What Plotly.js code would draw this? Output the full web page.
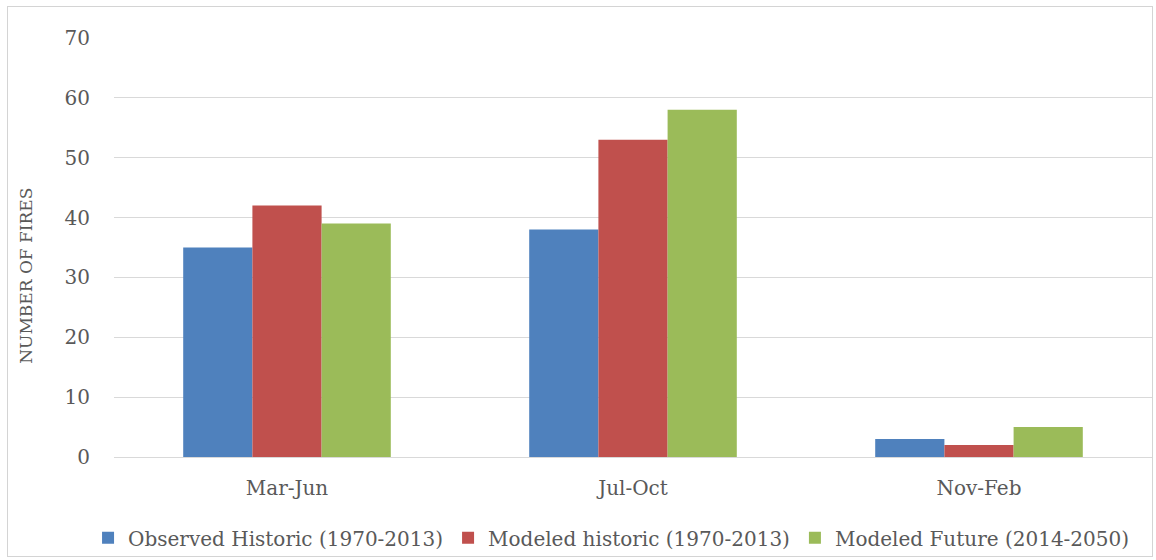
<!DOCTYPE html>
<html>
<head>
<meta charset="utf-8">
<script src="https://cdn.plot.ly/plotly-3.0.1.min.js"></script>
<style>
  html, body { margin: 0; padding: 0; background: #ffffff; }
  #wrap { position: relative; width: 1156px; height: 560px; }
  #chart { position: absolute; left: 0; top: 0; width: 1156px; height: 560px; }
  #frame { position: absolute; left: 7px; top: 6px; width: 1144px; height: 549px;
           border: 1.5px solid #d4d4d4; pointer-events: none; }
</style>
</head>
<body>
<div id="wrap">
  <div id="chart"></div>
  <div id="frame"></div>
</div>
<script>
// Fire counts by season
const seasons = ["Mar-Jun", "Jul-Oct", "Nov-Feb"];
const observedHistoric = [35, 38, 3];
const modeledHistoric = [42, 53, 2];
const modeledFuture = [39, 58, 5];
const seriesNames = [
  "Observed Historic (1970-2013)",
  "Modeled historic (1970-2013)",
  "Modeled Future (2014-2050)"
];
const yTicks = [0, 10, 20, 30, 40, 50, 60, 70];
const yTitle = "NUMBER OF FIRES";

const colors = ["#4f81bd", "#c0504d", "#9bbb59"];
const font = "'DejaVu Serif', serif";
const textColor = "#595959";

const traces = [observedHistoric, modeledHistoric, modeledFuture].map((vals, i) => ({
  type: "bar",
  name: seriesNames[i],
  x: seasons,
  y: vals,
  marker: { color: colors[i], line: { width: 0 } },
  hoverinfo: "x+y+name"
}));

const layout = {
  width: 1156,
  height: 560,
  margin: { l: 114, r: 4, t: 38, b: 102 },
  paper_bgcolor: "#ffffff",
  plot_bgcolor: "#ffffff",
  barmode: "group",
  bargap: 0.4,
  bargroupgap: 0,
  font: { family: font, color: textColor, size: 18 },
  xaxis: {
    type: "category",
    automargin: false,
    showgrid: false,
    showline: true,
    linecolor: "#d9d9d9",
    linewidth: 1,
    ticks: "",
    tickfont: { family: font, size: 20, color: textColor },
    ticklabelstandoff: 13
  },
  yaxis: {
    range: [0, 70],
    automargin: false,
    tickvals: yTicks,
    ticktext: yTicks.map(String),
    showgrid: true,
    gridcolor: "#d9d9d9",
    gridwidth: 1,
    zeroline: false,
    showline: false,
    ticks: "",
    tickfont: { family: font, size: 20, color: textColor },
    ticklabelstandoff: 23
  },
  annotations: [{
    text: yTitle,
    xref: "paper",
    yref: "paper",
    x: -0.0855,
    y: 0.433,
    xanchor: "center",
    yanchor: "middle",
    textangle: -90,
    showarrow: false,
    font: { family: font, size: 17, color: textColor }
  }],
  legend: {
    orientation: "h",
    x: -0.025,
    xanchor: "left",
    xref: "paper",
    y: -0.19,
    yanchor: "middle",
    font: { family: font, size: 20, color: textColor },
    itemwidth: 30,
    traceorder: "normal"
  },
  showlegend: true
};

Plotly.newPlot("chart", traces, layout, { displayModeBar: false, staticPlot: true });
</script>
</body>
</html>
